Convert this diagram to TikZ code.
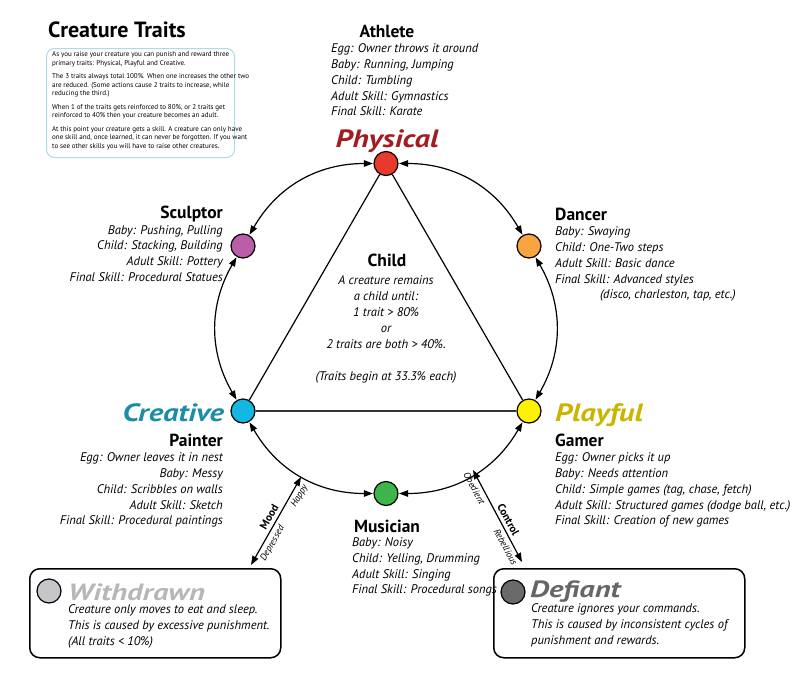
\documentclass[tikz,border=0pt]{standalone}
\usepackage{fontspec}
\setmainfont{PT Sans}
\usetikzlibrary{arrows.meta}
\definecolor{physfill}{HTML}{E8392D}
\definecolor{phystext}{HTML}{A11D21}
\definecolor{sculptfill}{HTML}{BA5EA8}
\definecolor{dancefill}{HTML}{F8A541}
\definecolor{creafill}{HTML}{12B8E3}
\definecolor{creatext}{HTML}{1C8DA6}
\definecolor{playfill}{HTML}{FFF200}
\definecolor{playtext}{HTML}{C8B600}
\definecolor{musfill}{HTML}{3DB54B}
\definecolor{withfill}{HTML}{C6C6CA}
\definecolor{withtext}{HTML}{B7B7B9}
\definecolor{deffill}{HTML}{6A6A6A}
\definecolor{deftext}{HTML}{666666}
\definecolor{infoborder}{HTML}{ADDCE6}
\newcommand{\widebig}[1]{\scalebox{1.23}[1]{#1}}
\newcommand{\widestate}[1]{\scalebox{1.3}[1]{#1}}
\begin{document}
\begin{tikzpicture}[x=1pt,y=1pt,
  >={Triangle[length=9pt,width=6.5pt]},
  trait/.style={circle,draw,line width=1.2pt,minimum size=24pt,inner sep=0pt},
  arc/.style={<->,line width=1.2pt,shorten <=0.5pt,shorten >=0.5pt},
  tri/.style={line width=1.2pt},
  bigname/.style={font=\fontsize{25}{30}\selectfont\bfseries\itshape,inner sep=0pt},
  ttl/.style={font=\fontsize{17.5}{20}\selectfont\bfseries,inner sep=0pt},
  body/.style={font=\fontsize{12.5}{15.8}\selectfont\itshape,inner sep=0pt},
  statebox/.style={draw,rounded corners=10pt,line width=1.5pt,minimum width=251pt,minimum height=89pt,inner sep=0pt},
  statedot/.style={circle,draw,line width=1.2pt,minimum size=24pt,inner sep=0pt},
  statename/.style={font=\fontsize{23.5}{28}\selectfont\bfseries\itshape,inner sep=0pt},
  axlab/.style={font=\fontsize{11}{13}\selectfont\bfseries,sloped},
  endlab/.style={font=\fontsize{9.5}{11}\selectfont\itshape,sloped}
]
\useasboundingbox (0,0) rectangle (800,-672);

% title and info box
\node[font=\fontsize{22}{26}\selectfont\bfseries,anchor=west,inner sep=0pt] (title) at (48,-30) {Creature Traits};
\node[draw=infoborder,line width=1pt,rounded corners=8pt,minimum width=188pt,minimum height=109pt,anchor=north west] (infobox) at (46,-48) {};
\node[font=\fontsize{7}{8.5}\selectfont,align=left,anchor=north west,inner sep=0pt] (infotext) at (52,-51.5) {As you raise your creature you can punish and reward three\\primary traits: Physical, Playful and Creative.\\[5pt]The 3 traits always total 100\%. When one increases the other two\\are reduced. (Some actions cause 2 traits to increase, while\\reducing the third.)\\[5pt]When 1 of the traits gets reinforced to 80\%, or 2 traits get\\reinforced to 40\% then your creature becomes an adult.\\[5pt]At this point your creature gets a skill. A creature can only have\\one skill and, once learned, it can never be forgotten. If you want\\to see other skills you will have to raise other creatures.};

% trait nodes
\node[trait,fill=physfill] (phys) at (386,-163.5) {};
\node[trait,fill=dancefill] (dance) at (529,-246) {};
\node[trait,fill=playfill] (play) at (529,-411) {};
\node[trait,fill=musfill] (mus) at (386,-493.5) {};
\node[trait,fill=creafill] (crea) at (243,-411) {};
\node[trait,fill=sculptfill] (sculpt) at (243,-246) {};

% triangle
\draw[tri] (phys) -- (crea);
\draw[tri] (phys) -- (play);
\draw[line width=1.8pt,draw=black!80] (crea) -- (play);

% circle arcs
\draw[arc] (phys) to[bend left=30] (dance);
\draw[arc] (dance) to[bend left=30] (play);
\draw[arc] (play) to[bend left=30] (mus);
\draw[arc] (mus) to[bend left=30] (crea);
\draw[arc] (crea) to[bend left=30] (sculpt);
\draw[arc] (sculpt) to[bend left=30] (phys);

% big trait names
\node[bigname,text=phystext,anchor=base] (physname) at (387,-147) {\widebig{Physical}};
\node[bigname,text=creatext,anchor=base east] (creaname) at (224,-421) {\widebig{Creative}};
\node[bigname,text=playtext,anchor=base west] (playname) at (555,-421) {\widebig{Playful}};

% Athlete
\node[ttl] (athlete) at (387,-31) {Athlete};
\node[body,align=left,anchor=north west] (athletetext) at (331,-43.5) {Egg: Owner throws it around\\Baby: Running, Jumping\\Child: Tumbling\\Adult Skill: Gymnastics\\Final Skill: Karate};

% Sculptor
\node[ttl,anchor=east] (sculptor) at (223,-214) {Sculptor};
\node[body,align=right,anchor=north east] (sculptortext) at (223,-225) {Baby: Pushing, Pulling\\Child: Stacking, Building\\Adult Skill: Pottery\\Final Skill: Procedural Statues};

% Dancer
\node[ttl,anchor=west] (dancer) at (555,-214) {Dancer};
\node[body,align=left,anchor=north west] (dancertext) at (555,-226.5) {Baby: Swaying\\Child: One-Two steps\\Adult Skill: Basic dance\\Final Skill: Advanced styles\\\hspace*{45pt}(disco, charleston, tap, etc.)};

% Child
\node[ttl] (child) at (387,-260) {Child};
\node[body,align=center,anchor=north,font=\fontsize{12.5}{16}\selectfont\itshape] (childtext) at (386,-275.5) {A creature remains\\a child until:\\1 trait > 80\%\\or\\2 traits are both > 40\%.\\\\(Traits begin at 33.3\% each)};

% Painter
\node[ttl,anchor=east] (painter) at (223,-440) {Painter};
\node[body,align=right,anchor=north east] (paintertext) at (223,-452.5) {Egg: Owner leaves it in nest\\Baby: Messy\\Child: Scribbles on walls\\Adult Skill: Sketch\\Final Skill: Procedural paintings};

% Gamer
\node[ttl,anchor=west] (gamer) at (555,-440) {Gamer};
\node[body,align=left,anchor=north west] (gamertext) at (555,-452.5) {Egg: Owner picks it up\\Baby: Needs attention\\Child: Simple games (tag, chase, fetch)\\Adult Skill: Structured games (dodge ball, etc.)\\Final Skill: Creation of new games};

% Musician
\node[ttl] (musician) at (387,-526) {Musician};
\node[body,align=left,anchor=north west] (musiciantext) at (352,-537.5) {Baby: Noisy\\Child: Yelling, Drumming\\Adult Skill: Singing\\Final Skill: Procedural songs};

% Withdrawn box
\node[statebox,anchor=north west] (withdrawn) at (29,-568) {};
\node[statedot,fill=withfill] (withdot) at (49,-591) {};
\node[statename,text=withtext,anchor=base west] (withname) at (68,-600) {\widestate{Withdrawn}};
\node[body,align=left,anchor=north west] (withtextnode) at (68,-604.5) {Creature only moves to eat and sleep.\\This is caused by excessive punishment.\\(All traits < 10\%)};

% Defiant box
\node[statebox,anchor=north west] (defiant) at (493,-568) {};
\node[statedot,fill=deffill] (defdot) at (513,-592) {};
\node[statename,text=deftext,anchor=base west] (defname) at (530,-597) {\widestate{Defiant}};
\node[body,align=left,anchor=north west] (deftextnode) at (531,-603.5) {Creature ignores your commands.\\This is caused by inconsistent cycles of\\punishment and rewards.};

% Mood axis
\coordinate (moodlow) at (251,-565);
\coordinate (moodhigh) at (301,-477);
\draw[<->,line width=1.2pt] (moodlow) -- (moodhigh)
  node[axlab,above,pos=0.5] {Mood}
  node[endlab,below,pos=0.83] {Happy}
  node[endlab,below,pos=0.29] {Depressed};

% Control axis
\coordinate (ctrlhigh) at (473,-470);
\coordinate (ctrllow) at (522,-562);
\draw[<->,line width=1.2pt] (ctrlhigh) -- (ctrllow)
  node[axlab,above,pos=0.58] {Control}
  node[endlab,below,pos=0.16] {Obedient}
  node[endlab,below,pos=0.8] {Rebellious};
\end{tikzpicture}
\end{document}
